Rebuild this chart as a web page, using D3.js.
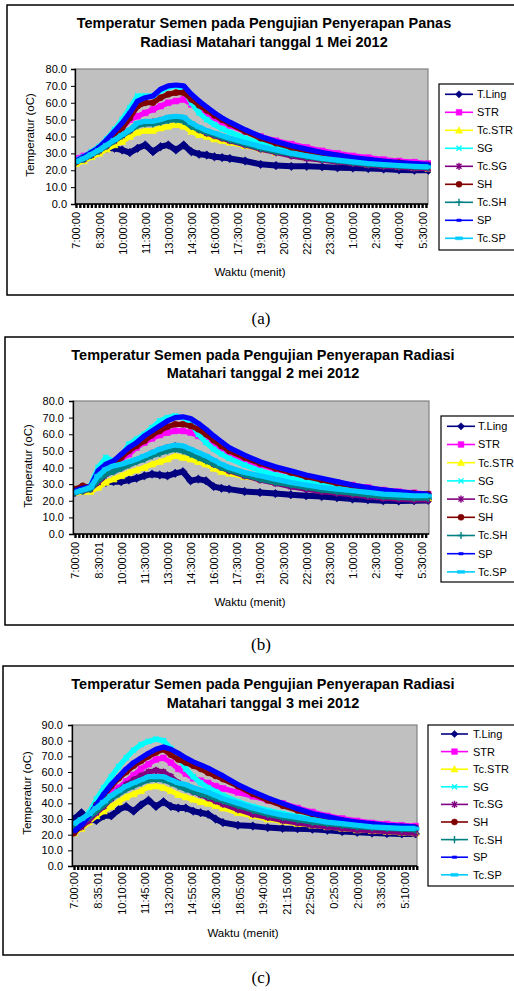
<!DOCTYPE html>
<html>
<head>
<meta charset="utf-8">
<script src="https://cdn.jsdelivr.net/npm/d3@7"></script>
<style>
  body { margin: 0; background: #fff; }
  svg { display: block; font-family: "Liberation Sans", Arial, sans-serif; }
</style>
</head>
<body>
<svg id="chart" width="514" height="991"></svg>
<script>
// ---------- data ----------
// minutes after 7:00 for every reading
const minutes = [0,30,60,90,120,150,180,210,240,270,300,330,360,390,420,450,480,510,540,570,600,660,720,780,840,900,960,1020,1080,1140,1200,1260,1320,1375];

const seriesNames = ["T.Ling","STR","Tc.STR","SG","Tc.SG","SH","Tc.SH","SP","Tc.SP"];
const seriesColors = ["#000080","#ff00ff","#ffff00","#00ffff","#800080","#800000","#008080","#0000ff","#00ccff"];
const seriesMarkers = ["diamond","square","triangle","x","star","circle","plus","dash","bar"];

// 1 Mei 2012
const tLing1 = [25,27.5,30,32,33,33,32,30.5,33,35,31,34,35,32,35,31,29.5,29,28,27.5,27,25.5,23.5,22.8,22.3,22.3,22,21.5,21.3,21,20.7,20.2,20,20];
const str1   = [27,28.5,30.5,33,36,40,45,50,52,54,56,58,60,61,62,59,56,53.5,51,48.5,46.5,43,40,37.5,35.5,33.5,31.5,30,28.5,27.5,26.3,25.5,24.8,24];
const tcStr1 = [24,25.5,28,30,32.5,35,37,40,42.5,43.5,43.5,45,46,47,46,43,41,40,38.5,37.5,36.5,34.5,32.5,30.5,29,27.5,26.5,25.5,24.5,23.5,22.8,22.2,21.5,21];
const sg1    = [26,28,31,34,38.5,44,50,57,64,64,64,67,69,70,68,60,54,50,47,44.5,42.5,39,36,33.5,31.5,30,28.5,27,26,25,24,23.5,23,22.5];
const tcSg1  = [25,26.5,29,31.5,34.5,37.5,40.5,43.5,47,48,48.5,49.5,50.5,51,50,46.5,44,42,40.5,39,37.5,35,32.5,30.5,28.5,27,26,25,24,23,22.3,21.8,21.3,21];
const sh1    = [25,27.5,30,33,37,41,45,51,58,60,60,63,65,66,66,62,58.5,55.5,52.5,50,47.5,43,39,36,33.5,31.5,30,28.5,27,26,25,24.5,23.5,23];
const tcSh1  = [25,26.5,29,31.5,34.5,37.5,40.5,43.5,46.5,47.5,47.5,48.5,49.5,50,49,46,44,42.5,41,39.5,38,35.5,33,31,29.5,28,26.5,25.5,24.5,23.5,23,22.5,22,21.5];
const sp1    = [25.5,28,30.5,33.5,38,43,48,54,61,63,64,68,70,70.5,70,65,61,57.5,54,51,48.5,44,40,37,34.5,32.5,30.5,29,27.5,26.5,25.5,24.5,24,23.5];
const tcSp1  = [25,27,29.5,32,35,38,41,44,48,49,49,50,51.5,52,51.5,48,45.5,43.5,42,40.5,39,36.5,34,32,30,28.5,27,26,25,24,23.3,22.8,22.3,22];

// 2 mei 2012
const tLing2 = [25,26.5,27.5,29.5,31,31.5,31.5,32.5,33.5,35,36,35.5,35,36.5,37.5,32,33,32,28.5,27.5,27,25.6,25,24.3,23.6,23,22.5,21.8,21,20.5,20,19.8,20,20.2];
const str2   = [26,28,28,34,39,42,45,48,52,55,57.5,59.5,61,62,62,61,59,56,53,50.5,48,44.5,41.5,39,37,34.5,32.5,31,29.5,28,26.5,25.5,24.8,24];
const tcStr2 = [25,25.5,25.5,28,31,33,35,37,38.5,40,42,43.5,45,47,46,45,43.5,42,39.5,37.5,36.5,34.5,33,31,29.5,28,27,26,25,24,23,22.5,22,21.5];
const sg2    = [26,27,29,40,46,44,47,54,57,60,64,68,70,71,70,67,60,55,51,48,45.5,41.5,38,35.5,33.5,31.5,30,28.5,27,26,25,24.3,23.5,23];
const tcSg2  = [25,26,27,31,36,38,40,42,44,46,48.5,50.5,52,53,51,49,47,44.5,42,40,38,35,32.5,30.5,28.5,27,25.5,24.5,23.5,22.5,21.5,21,20.5,20.5];
const sh2    = [27,29,28,36,40,42,46,50,53,56,59.5,62,64.5,66,66,65,63,60,56.5,53,50,46,42.5,39.5,37,34.5,32.5,30.5,29,27.5,26,25,24.5,24];
const tcSh2  = [25,26,27,32,36,37.5,39.5,41.5,43.5,45,47,48.5,50,51,50,48,46,44,42,40,38.5,35.5,33,31,29.5,28,26.5,25.5,24.5,23.5,22.5,22,21.5,21.5];
const sp2    = [26,27.5,28.5,38,42,44,48,52,55,59,62,65,68,70,70.5,69.5,66.5,63,59,55.5,52,47.5,43.5,40.5,38,35.5,33.5,31.5,29.5,28,26.5,25.5,24.5,24];
const tcSp2  = [25,26.5,28,35,39,41,42,43.5,45,47,49,51,52.5,53.5,53,51,49,47,44.5,42,40,37,35,33,31,29.5,28,27,26,25,24,23.5,23,23];

// 3 mei 2012
const tLing3 = [30,34,30,29,32,32,36,38,35,39,42,38,41,38,37,37,35,34,33,30,27.7,26,25.5,24.5,24,23.8,23.5,22.8,22,21.5,21,20.7,20.5,20.5];
const str3   = [22,26,31,37,42,47,50,54,58,62,65,68,69,66,62,59,56,54.5,53,51,49.5,47,44.5,42,40,37,34.5,32,30.3,28.8,27.5,26.8,26,25.5];
const tcStr3 = [21,24,28,32,35,38,41,44,46,48,50.5,51,50,48,45.5,44,42.5,41,40,38.5,37,34,32,30,28.5,27,26,25,24,23,22.5,22,21.5,21];
const sg3    = [23,27.5,34,42.5,50,57,63.5,69,74,77.5,79.5,81,80,75,70,62,57,53,50,47.5,45,41,38,35.5,33.5,31.5,30,28.5,27.5,26.5,25.5,25,24.5,24];
const tcSg3  = [22,25,29,34,38,43,48,52,55,57.5,60,61,60,57,53,50,47.5,45.5,43.5,41.5,39.5,36,33,31,29,27.5,26,25,24,23,22.5,22,21.5,21];
const sh3    = [21,26,32,39,45,51,56,60,64,67,70,72.5,74.5,71,68,66,64,62,59.5,57.5,55.5,51,46,42,38.5,35.5,33,31,29,27.5,26.5,25.5,25,24.5];
const tcSh3  = [24,27,31,35,39,43,46,49,51,53,55,55.5,55,53,51,49,47.5,46,44.5,43,41.5,38.5,35.5,33,31,29.5,28,27,26,25,24.5,24,23.5,23];
const sp3    = [22,26,32,39,46,52,57,62,66,69,72,74.5,76,74.5,72,69,66.5,64.5,62.5,60,57.5,52,47.5,43.5,40,36.5,33.5,31.5,29.5,28,27,26,25.5,25];
const tcSp3  = [27,30,33,37,41,45,48,51,53,55,57,57,57,55,53,52,50,48.5,47,45,43,40,37,34.5,32.5,31,29.5,28,27,26,25,24.5,24,24];

// category labels on the time axis
const labelsA  = ["7:00:00","8:30:00","10:00:00","11:30:00","13:00:00","14:30:00","16:00:00","17:30:00","19:00:00","20:30:00","22:00:00","23:30:00","1:00:00","2:30:00","4:00:00","5:30:00"];
const labelsB  = ["7:00:00","8:30:01","10:00:00","11:30:00","13:00:00","14:30:00","16:00:00","17:30:00","19:00:00","20:30:00","22:00:00","23:30:00","1:00:00","2:30:00","4:00:00","5:30:00"];
const labelMinAB = [0,90,180,270,360,450,540,630,720,810,900,990,1080,1170,1260,1350];
const labelsC  = ["7:00:00","8:35:01","10:10:00","11:45:00","13:20:00","14:55:00","16:30:00","18:05:00","19:40:00","21:15:00","22:50:00","0:25:00","2:00:00","3:35:00","5:10:00"];
const labelMinC = [0,95,190,285,380,475,570,665,760,855,950,1045,1140,1235,1330];

// ---------- panel layouts ----------
const panels = [
  { box: [7, 5, 520, 290],
    title: ["Temperatur Semen pada Pengujian Penyerapan Panas", "Radiasi Matahari tanggal 1 Mei 2012"],
    titleX: 264, titleY: [28, 46.5],
    plot: { l: 75, r: 428, t: 69, b: 204 }, x0: 76, tEnd: 1373, yMax: 80,
    yLabelX: 67, yTitle: [30, 135], xLabelTop: 212, xTitle: [250, 275.5],
    legend: { x: 439, y: 84, h: 166, row0: 94.3, step: 18, lx0: 445, lx1: 473, tx: 477 },
    caption: ["(a)", 261, 324],
    labels: labelsA, labelMin: labelMinAB,
    data: [tLing1, str1, tcStr1, sg1, tcSg1, sh1, tcSh1, sp1, tcSp1] },
  { box: [5, 337, 520, 288],
    title: ["Temperatur Semen pada Pengujian Penyerapan Radiasi", "Matahari tanggal 2 mei 2012"],
    titleX: 263, titleY: [360, 378],
    plot: { l: 73, r: 429, t: 401, b: 534 }, x0: 75, tEnd: 1378, yMax: 80,
    yLabelX: 64, yTitle: [28, 466], xLabelTop: 542, xTitle: [250, 605.5],
    legend: { x: 441, y: 416, h: 166, row0: 426.3, step: 18.2, lx0: 447, lx1: 475, tx: 478 },
    caption: ["(b)", 261, 650],
    labels: labelsB, labelMin: labelMinAB,
    data: [tLing2, str2, tcStr2, sg2, tcSg2, sh2, tcSh2, sp2, tcSp2] },
  { box: [3, 666, 520, 289],
    title: ["Temperatur Semen pada Pengujian Penyerapan Radiasi", "Matahari tanggal 3 mei 2012"],
    titleX: 263, titleY: [688.5, 707.5],
    plot: { l: 72, r: 417, t: 725, b: 866 }, x0: 74, tEnd: 1381, yMax: 90,
    yLabelX: 63, yTitle: [27, 793], xLabelTop: 872, xTitle: [243, 936.5],
    legend: { x: 428, y: 725, h: 161, row0: 734, step: 17.6, lx0: 441, lx1: 468, tx: 473 },
    caption: ["(c)", 261, 983],
    labels: labelsC, labelMin: labelMinC,
    data: [tLing3, str3, tcStr3, sg3, tcSg3, sh3, tcSh3, sp3, tcSp3] }
];

const svg = d3.select("#chart");

// marker shapes, centred on 0,0 with half size s
function markerPath(type, s) {
  switch (type) {
    case "diamond": return `M0,${-s}L${s},0L0,${s}L${-s},0Z`;
    case "square": return `M${-s*0.8},${-s*0.8}h${1.6*s}v${1.6*s}h${-1.6*s}Z`;
    case "triangle": return `M0,${-s}L${s},${s*0.8}L${-s},${s*0.8}Z`;
    case "x": return `M${-s*0.7},${-s*0.7}L${s*0.7},${s*0.7}M${s*0.7},${-s*0.7}L${-s*0.7},${s*0.7}`;
    case "star": return `M${-s*0.7},${-s*0.7}L${s*0.7},${s*0.7}M${s*0.7},${-s*0.7}L${-s*0.7},${s*0.7}M0,${-s}V${s}`;
    case "circle": return `M${s*0.85},0A${s*0.85},${s*0.85} 0 1 1 ${-s*0.85},0A${s*0.85},${s*0.85} 0 1 1 ${s*0.85},0Z`;
    case "plus": return `M${-s},0H${s}M0,${-s}V${s}`;
    case "dash": return `M${-s*0.6},${-s*0.35}h${1.2*s}v${0.7*s}h${-1.2*s}Z`;
    case "bar": return `M${-s},${-s*0.4}h${2*s}v${0.8*s}h${-2*s}Z`;
  }
}
const strokeOnly = new Set(["x", "star", "plus"]);

function drawPanel(p, pi) {
  const g = svg.append("g");

  // outer frame (runs off the right edge like the source)
  g.append("rect")
    .attr("x", p.box[0]).attr("y", p.box[1])
    .attr("width", p.box[2]).attr("height", p.box[3])
    .attr("fill", "#fff").attr("stroke", "#000").attr("stroke-width", 1.5);

  // title
  p.title.forEach((t, i) => {
    g.append("text")
      .attr("x", p.titleX).attr("y", p.titleY[i])
      .attr("text-anchor", "middle")
      .attr("font-size", 14.5).attr("font-weight", "bold")
      .text(t);
  });

  const x = d3.scaleLinear().domain([0, p.tEnd]).range([p.x0, p.plot.r]);
  const y = d3.scaleLinear().domain([0, p.yMax]).range([p.plot.b, p.plot.t]);

  // plot area
  g.append("rect")
    .attr("x", p.plot.l).attr("y", p.plot.t)
    .attr("width", p.plot.r - p.plot.l).attr("height", p.plot.b - p.plot.t)
    .attr("fill", "#c0c0c0").attr("stroke", "#808080").attr("stroke-width", 1.2);

  const clipId = "clip" + pi;
  g.append("clipPath").attr("id", clipId)
    .append("rect")
    .attr("x", p.plot.l).attr("y", p.plot.t - 4)
    .attr("width", p.plot.r - p.plot.l + 3).attr("height", p.plot.b - p.plot.t + 4);

  const series = g.append("g").attr("clip-path", `url(#${clipId})`);
  const line = d3.line().x((d, i) => x(minutes[i])).y(d => y(d));

  p.data.forEach((vals, si) => {
    const col = seriesColors[si];
    const type = seriesMarkers[si];
    const wide = si === 0 ? 6 : 5.2;   // the source bands are thick and noisy
    series.append("path")
      .datum(vals)
      .attr("d", line)
      .attr("fill", "none")
      .attr("stroke", col)
      .attr("stroke-width", wide)
      .attr("stroke-linejoin", "round");
    series.selectAll(null)
      .data(vals)
      .join("path")
      .attr("transform", (d, i) => `translate(${x(minutes[i])},${y(d)})`)
      .attr("d", markerPath(type, si === 0 ? 4.2 : 3.6))
      .attr("fill", strokeOnly.has(type) ? "none" : col)
      .attr("stroke", col)
      .attr("stroke-width", strokeOnly.has(type) ? 1.8 : 0.6);
  });

  // y axis
  const yAxis = d3.axisLeft(y)
    .tickValues(d3.range(0, p.yMax + 1, 10))
    .tickFormat(d3.format(".1f"))
    .tickSize(4)
    .tickPadding(p.plot.l - p.yLabelX - 4);
  const ya = g.append("g")
    .attr("transform", `translate(${p.plot.l},0)`)
    .call(yAxis);
  ya.select(".domain").attr("stroke", "#000").attr("stroke-width", 1.3);
  ya.selectAll("text").attr("font-size", 11).attr("font-family", "Liberation Sans, Arial, sans-serif").attr("fill", "#000");

  // dense category tick marks under the time axis
  const minorAxis = d3.axisBottom(x)
    .tickValues(d3.range(0, p.tEnd, 15))
    .tickFormat("")
    .tickSize(4);
  const xm = g.append("g")
    .attr("transform", `translate(0,${p.plot.b})`)
    .call(minorAxis);
  xm.select(".domain").remove();
  xm.selectAll(".tick line").attr("stroke", "#000").attr("stroke-width", 2.4);

  // time labels, rotated
  const labelAxis = d3.axisBottom(x)
    .tickValues(p.labelMin)
    .tickFormat((d, i) => p.labels[i])
    .tickSize(0);
  const xa = g.append("g")
    .attr("transform", `translate(0,${p.plot.b})`)
    .call(labelAxis);
  xa.select(".domain")
    .attr("d", `M${p.plot.l},0H${p.plot.r}`)
    .attr("stroke", "#000").attr("stroke-width", 1.3);
  xa.selectAll("text")
    .attr("font-size", 11).attr("font-family", "Liberation Sans, Arial, sans-serif").attr("fill", "#000")
    .attr("transform", "rotate(-90)")
    .attr("x", -(p.xLabelTop - p.plot.b))
    .attr("y", 0)
    .attr("dy", "0.36em")
    .attr("text-anchor", "end");

  // axis titles
  g.append("text")
    .attr("transform", `translate(${p.yTitle[0]},${p.yTitle[1]}) rotate(-90)`)
    .attr("text-anchor", "middle").attr("dy", "0.36em")
    .attr("font-size", 11.5)
    .text("Temperatur (oC)");
  g.append("text")
    .attr("x", p.xTitle[0]).attr("y", p.xTitle[1])
    .attr("text-anchor", "middle")
    .attr("font-size", 11.5)
    .text("Waktu (menit)");

  // legend
  const L = p.legend;
  g.append("rect")
    .attr("x", L.x).attr("y", L.y)
    .attr("width", 100).attr("height", L.h)
    .attr("fill", "#fff").attr("stroke", "#000").attr("stroke-width", 1.2);
  seriesNames.forEach((name, si) => {
    const ry = L.row0 + si * L.step;
    const col = seriesColors[si];
    const type = seriesMarkers[si];
    g.append("line")
      .attr("x1", L.lx0).attr("x2", L.lx1)
      .attr("y1", ry).attr("y2", ry)
      .attr("stroke", col).attr("stroke-width", 1.6);
    g.append("path")
      .attr("transform", `translate(${(L.lx0 + L.lx1) / 2},${ry})`)
      .attr("d", markerPath(type, 3.6))
      .attr("fill", strokeOnly.has(type) ? "none" : col)
      .attr("stroke", col)
      .attr("stroke-width", strokeOnly.has(type) ? 1.4 : 0.5);
    g.append("text")
      .attr("x", L.tx).attr("y", ry).attr("dy", "0.36em")
      .attr("font-size", 11)
      .text(name);
  });

  // caption under the panel
  g.append("text")
    .attr("x", p.caption[1]).attr("y", p.caption[2])
    .attr("text-anchor", "middle")
    .attr("font-family", "Liberation Serif, 'Times New Roman', serif")
    .attr("font-size", 17)
    .text(p.caption[0]);
}

panels.forEach(drawPanel);
</script>
</body>
</html>
